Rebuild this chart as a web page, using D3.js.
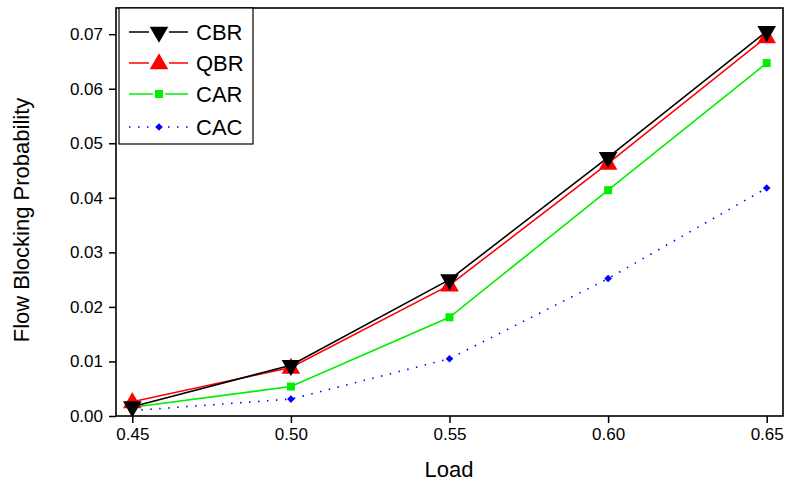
<!DOCTYPE html>
<html><head><meta charset="utf-8">
<script src="https://cdn.jsdelivr.net/npm/d3@7/dist/d3.min.js"></script>
<style>body{margin:0;background:#fff}svg{display:block}text{font-family:Arial,"Liberation Sans",sans-serif}</style>
</head><body><svg id="c" width="786" height="482"></svg>
<script>
const loads = [0.45, 0.50, 0.55, 0.60, 0.65];
const xTicks = [0.45, 0.50, 0.55, 0.60, 0.65];
const yTicks = [0.00, 0.01, 0.02, 0.03, 0.04, 0.05, 0.06, 0.07];
const cbr = [0.0017, 0.0093, 0.0250, 0.0474, 0.0705];
const qbr = [0.0026, 0.0089, 0.0240, 0.0463, 0.0695];
const car = [0.0016, 0.0054, 0.0181, 0.0414, 0.0647];
const cac = [0.0010, 0.0031, 0.0105, 0.0252, 0.0418];
const seriesNames = ["CBR", "QBR", "CAR", "CAC"];

const series = [
  {name: seriesNames[0], values: cbr, color: "#000000", marker: "down", dash: null, gap: 10},
  {name: seriesNames[1], values: qbr, color: "#ff0000", marker: "up", dash: null, gap: 10},
  {name: seriesNames[2], values: car, color: "#00ee00", marker: "square", dash: null, gap: 6},
  {name: seriesNames[3], values: cac, color: "#0000ff", marker: "diamond", dash: "1.5,7.5", gap: 0}
];

const svg = d3.select("#c");
const L = 116, R = 783, T = 8, B = 416;
const x = d3.scaleLinear().domain([0.44486, 0.65514]).range([L, R]);
const y = d3.scaleLinear().domain([0, 0.0748]).range([B, T]);

// axes
const gx = svg.append("g").attr("transform", `translate(0,${B})`)
  .call(d3.axisBottom(x).tickValues(xTicks).tickFormat(d3.format(".2f")).tickSize(7).tickPadding(5));
const gy = svg.append("g").attr("transform", `translate(${L},0)`)
  .call(d3.axisLeft(y).tickValues(yTicks).tickFormat(d3.format(".2f")).tickSize(7).tickPadding(6));
[gx, gy].forEach(g => {
  g.select(".domain").remove();
  g.selectAll(".tick line").attr("stroke", "#000").attr("stroke-width", 1.5);
  g.selectAll(".tick text").attr("font-size", 17).attr("fill", "#000")
    .attr("font-family", "Arial, 'Liberation Sans', sans-serif");
});

// frame
svg.append("rect").attr("x", L).attr("y", T).attr("width", R - L).attr("height", B - T)
  .attr("fill", "none").attr("stroke", "#000").attr("stroke-width", 1.6);

const sym = {
  down: d3.symbol().type(d3.symbolTriangle).size(150),
  up: d3.symbol().type(d3.symbolTriangle).size(150),
  square: d3.symbol().type(d3.symbolSquare).size(64),
  diamond: () => "M0,-3.8L3.8,0L0,3.8L-3.8,0Z"
};
function marker(g, s, cx, cy) {
  const p = g.append("path").attr("d", sym[s.marker]()).attr("fill", s.color);
  if (s.marker === "down") p.attr("transform", `translate(${cx},${cy}) rotate(180)`);
  else if (s.marker === "up") p.attr("transform", `translate(${cx},${cy + 1})`);
  else p.attr("transform", `translate(${cx},${cy})`);
}

const line = d3.line().x((d, i) => x(loads[i])).y(d => y(d));
const plot = svg.append("g");
series.slice().reverse().forEach(s => {
  plot.append("path").attr("d", line(s.values)).attr("fill", "none")
    .attr("stroke", s.color).attr("stroke-width", 1.6)
    .attr("stroke-dasharray", s.dash);
});
series.slice().reverse().forEach(s => {
  s.values.forEach((v, i) => marker(plot, s, x(loads[i]), y(v)));
});

// legend
const lg = svg.append("g");
lg.append("rect").attr("x", 119).attr("y", 8).attr("width", 134).attr("height", 136)
  .attr("fill", "#fff").attr("stroke", "#000").attr("stroke-width", 1.2);
const ly = [32, 63, 94, 127];
const mx = 159;
series.forEach((s, i) => {
  [[129, mx - s.gap], [mx + s.gap, 188]].forEach(([a, b]) => {
    lg.append("line").attr("x1", a).attr("x2", b).attr("y1", ly[i]).attr("y2", ly[i])
      .attr("stroke", s.color).attr("stroke-width", 1.5).attr("stroke-dasharray", s.dash);
  });
  marker(lg, s, mx, ly[i]);
  lg.append("text").attr("x", 196).attr("y", ly[i]).attr("dy", "0.36em")
    .attr("font-size", 22).text(s.name);
});

// axis titles
svg.append("text").attr("x", 449).attr("y", 477).attr("text-anchor", "middle")
  .attr("font-size", 22).text("Load");
svg.append("text").attr("transform", `translate(29,220) rotate(-90)`)
  .attr("text-anchor", "middle").attr("font-size", 22).text("Flow Blocking Probability");
</script></body></html>
